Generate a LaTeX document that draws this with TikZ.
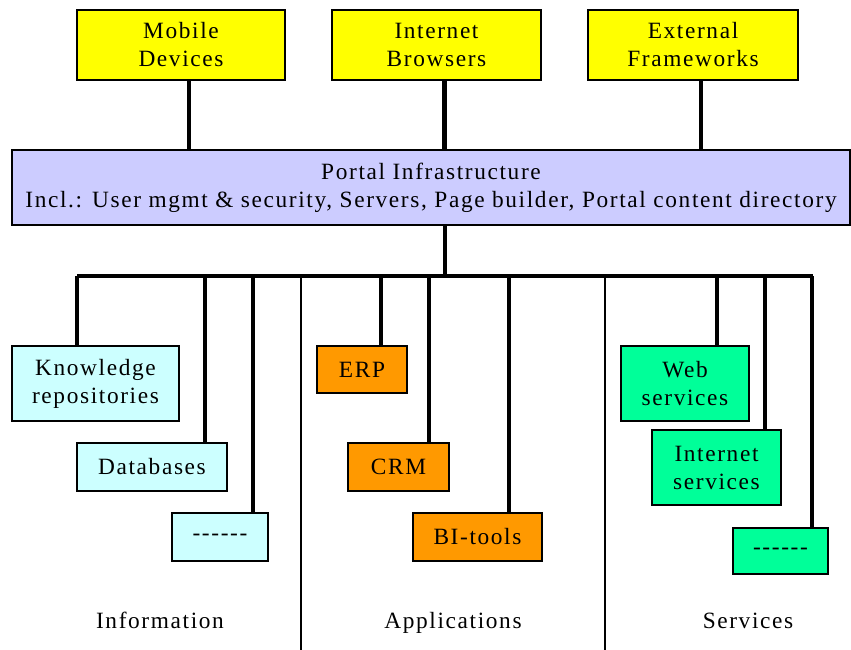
\documentclass[tikz,border=0pt]{standalone}
\usepackage{fontspec}
\setmainfont{Liberation Serif}[LetterSpace=7]
\usetikzlibrary{positioning}

\definecolor{devyellow}{HTML}{FFFF00}
\definecolor{portalblue}{HTML}{CCCCFF}
\definecolor{infocyan}{HTML}{CCFFFF}
\definecolor{apporange}{HTML}{FF9900}
\definecolor{servgreen}{HTML}{00FF99}

\newcommand{\moredots}{-{}-{}-{}-{}-{}-}

\begin{document}
\begin{tikzpicture}[
    x=0.75pt, y=-0.75pt,
    box/.style={
        rectangle, draw, line width=0.9pt, inner sep=0pt,
        align=center, font=\fontsize{17.5}{21}\selectfont
    },
    client/.style={box, fill=devyellow, minimum height=52.5pt},
    info/.style={box, fill=infocyan},
    app/.style={box, fill=apporange},
    serv/.style={box, fill=servgreen},
    link/.style={line width=3.6pt},
    divider/.style={line width=1.2pt},
    column/.style={anchor=base, font=\fontsize{17.5}{21}\selectfont},
]
\useasboundingbox (0,0) rectangle (851,650);

% clients on top
\node[client, minimum width=156pt]   (mob)  at (181,45)   {Mobile\\Devices};
\node[client, minimum width=156.75pt] (inet) at (436.5,45) {Internet\\Browsers};
\node[client, minimum width=157.5pt] (ext)  at (693,45)   {External\\Frameworks};

\node[box, fill=portalblue, minimum width=628.5pt, minimum height=56.25pt] (portal) at (431,187.5)
    {Portal Infrastructure\\Incl.: User mgmt \& security, Servers, Page builder, Portal content directory};

\draw[link] ([xshift=6pt]mob.south)  -- ([xshift=6pt]mob.south |- portal.north);
\draw[link] ([xshift=6pt]inet.south) -- ([xshift=6pt]inet.south |- portal.north);
\draw[link] ([xshift=6pt]ext.south)  -- ([xshift=6pt]ext.south |- portal.north);

% bus
\coordinate (busL) at (77,276);
\coordinate (busR) at (813,276);
\coordinate (hub)  at (445,276);
\draw[link] (portal.south -| hub) -- (hub);
\draw[link] (busL) -- (busR);

% columns
\coordinate (sep1) at (301,276);
\coordinate (sep2) at (605,276);
\draw[divider] (sep1) -- ++(0,374);
\draw[divider] (sep2) -- ++(0,374);

% information
\node[info, minimum width=125.25pt, minimum height=56.25pt] (kr)    at (95.5,383.5) {Knowledge\\repositories};
\node[info, minimum width=112.5pt,  minimum height=36pt]    (db)    at (152,467)    {Databases};
\node[info, minimum width=72pt,     minimum height=36pt]    (idots) at (220,537)    {\moredots};

% applications
\node[app, minimum width=67.5pt,  minimum height=35.25pt] (erp) at (362,369.5) {ERP};
\node[app, minimum width=75.75pt, minimum height=36pt]    (crm) at (398.5,467) {CRM};
\node[app, minimum width=96.75pt, minimum height=36pt]    (bi)  at (477.5,537) {BI-tools};

% services
\node[serv, minimum width=96pt,    minimum height=56.25pt] (web)   at (685,383.5) {Web\\services};
\node[serv, minimum width=96.75pt, minimum height=56.25pt] (isv)   at (716.5,467.5) {Internet\\services};
\node[serv, minimum width=71.25pt, minimum height=34.5pt]  (sdots) at (780.5,551) {\moredots};

% drops from the bus
\coordinate (b1) at (77,276);
\coordinate (b2) at (205,276);
\coordinate (b3) at (253,276);
\coordinate (b4) at (381,276);
\coordinate (b5) at (429,276);
\coordinate (b6) at (509,276);
\coordinate (b7) at (717,276);
\coordinate (b8) at (765,276);
\coordinate (b9) at (812,276);
\draw[link] (b1) -- (b1 |- kr.north);
\draw[link] (b2) -- (b2 |- db.north);
\draw[link] (b3) -- (b3 |- idots.north);
\draw[link] (b4) -- (b4 |- erp.north);
\draw[link] (b5) -- (b5 |- crm.north);
\draw[link] (b6) -- (b6 |- bi.north);
\draw[link] (b7) -- (b7 |- web.north);
\draw[link] (b8) -- (b8 |- isv.north);
\draw[link] (b9) -- (b9 |- sdots.north);

\node[column] (infolbl) at (160,628) {Information};
\node[column] (applbl)  at (453,628) {Applications};
\node[column] (servlbl) at (748,628) {Services};
\end{tikzpicture}
\end{document}
